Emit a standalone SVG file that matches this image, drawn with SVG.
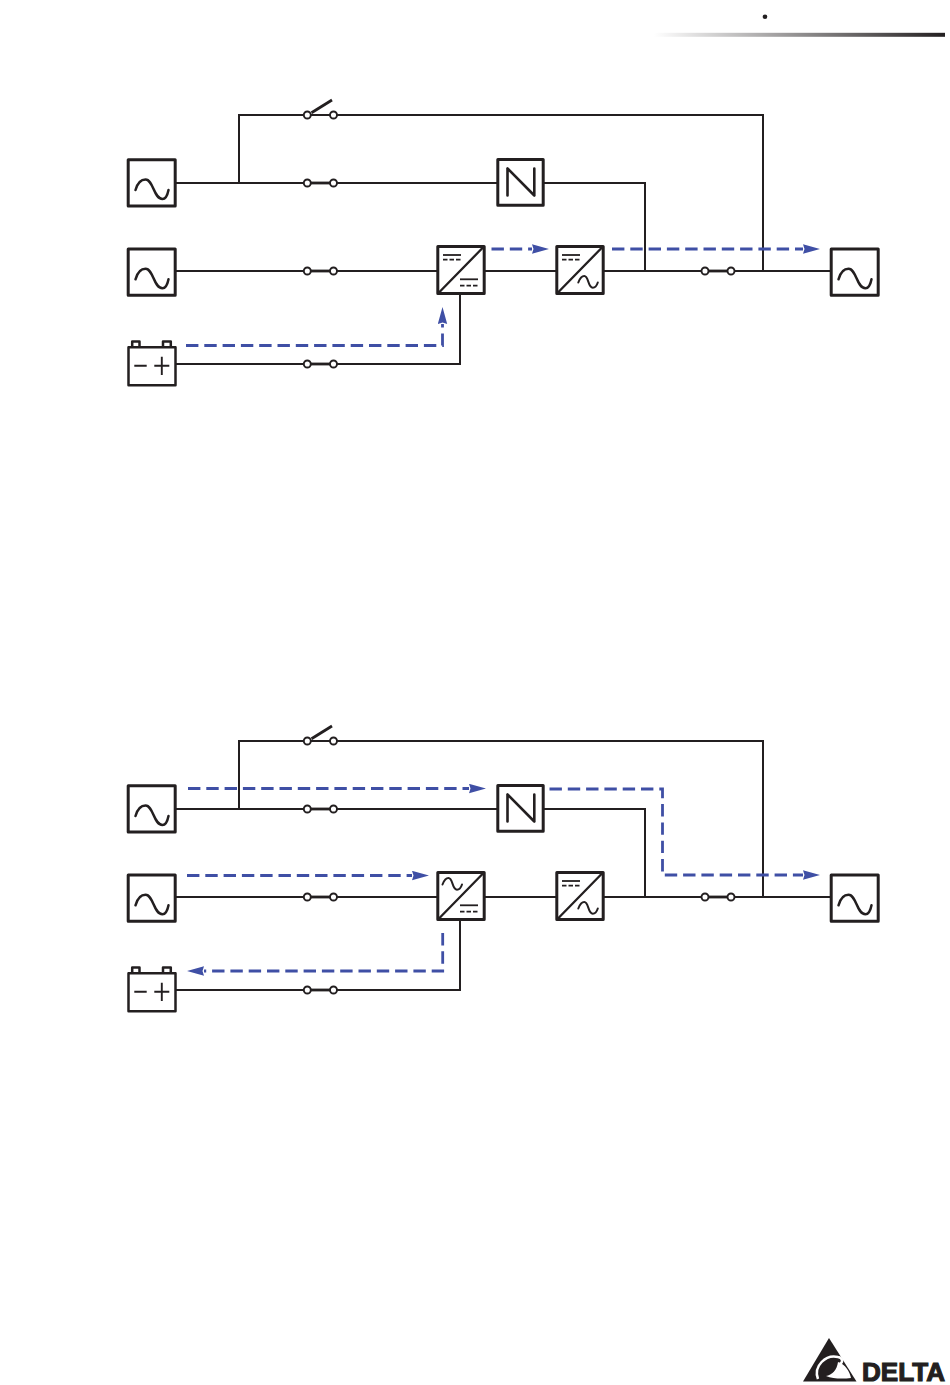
<svg xmlns="http://www.w3.org/2000/svg" width="950" height="1385" viewBox="0 0 950 1385">
<style>
.w{fill:none;stroke:#231f20;stroke-width:2}
.b{fill:#fff;stroke:#231f20;stroke-width:3;stroke-linejoin:round}
.bt{fill:#fff;stroke:#231f20;stroke-width:2.5;stroke-linejoin:round}
.s{fill:none;stroke:#231f20;stroke-linecap:round}
.t{fill:none;stroke:#231f20;stroke-width:1.9}
.d{fill:none;stroke:#3f4fa5;stroke-width:2.8;stroke-dasharray:12.4 5.9}
.c{fill:#fff;stroke:#231f20;stroke-width:1.9}
.h{fill:none;stroke:#231f20;stroke-width:2.8}
.dc{fill:none;stroke:#231f20;stroke-width:1.8}
</style>
<defs>
<linearGradient id="g"><stop offset="0" stop-color="#fff"/><stop offset="1" stop-color="#231f20"/></linearGradient>
<marker id="a" markerUnits="userSpaceOnUse" markerWidth="18" markerHeight="11" refX="0" refY="5" orient="auto"><path d="M0 .3L17 5L0 9.700L1.500 5Z" fill="#3f4fa5"/></marker>
<g id="ac"><rect class="b" x=".7" y=".8" width="47" height="46.200"/><path class="s" style="stroke-width:2.500" d="M8 31C10 24 14 20.500 18 20.500C26 20.500 26 40 35 40C38 40 40 36 41 31"/></g>
<g id="dc1"><path class="dc" d="M6 9H24"/><path class="dc" style="stroke-dasharray:4.500 2" d="M6 13.700H24"/></g>
<g id="dc2"><path class="dc" d="M23 33.300H41"/><path class="dc" style="stroke-dasharray:4.500 2" d="M23 39.700H41"/></g>
<path id="sn" class="s" style="stroke-width:2" d="M0 6.500C1.500 2.500 3.500 0 6 0C10.500 0 9.500 11.700 14.500 11.700C16.500 11.700 18.500 9.500 19.500 6.500"/>
<g id="box"><rect class="b" x=".8" y=".5" width="46.400" height="47"/><path class="s" style="stroke-width:2.300" d="M1.500 47L46.500 1"/></g>
<g id="cv2"><use href="#box"/><use href="#dc1"/><use href="#sn" x="22.300" y="30"/></g>
<g id="n"><rect class="b" x=".8" y=".5" width="45.400" height="45.700"/><path class="s" style="stroke-width:2.600" d="M10.500 9.500V36.500M37.300 9.500V36.500M10.500 9.500L37.300 36.500"/></g>
<g id="bat"><rect class="bt" x="4.700" y="-5.500" width="7.300" height="7"/><rect class="bt" x="35.500" y="-5.500" width="7.800" height="7"/><rect class="bt" x="1" y=".3" width="47" height="38"/><path class="t" d="M6.800 18.700H19.200M26.800 18.700H41.800M34.300 9.700V28"/></g>
<g id="swc"><path class="h" d="M307 0H334"/><circle class="c" cx="307.300" cy="0" r="3.500"/><circle class="c" cx="333.500" cy="0" r="3.500"/></g>
<g id="swo"><path class="h" d="M311.500-2.300L332-15"/><circle class="c" cx="307.300" cy="0" r="3.500"/><circle class="c" cx="333.500" cy="0" r="3.500"/></g>
<g id="swb"><path class="h" d="M705 0H731"/><circle class="c" cx="705" cy="0" r="3.500"/><circle class="c" cx="731" cy="0" r="3.500"/></g>
</defs>
<rect width="950" height="1385" fill="#fff"/>
<g id="header"><circle cx="765" cy="16.700" r="2.300" fill="#231f20"/><rect x="654" y="32.800" width="291" height="4" fill="url(#g)"/></g>

<g id="connectors">
<path class="w" d="M176 183H507M534 183H645V271M239 183V115H763V271M176 271H437M485 271H556M604 271H830M176 364H460V294"/>
<path class="w" transform="translate(0 626)" d="M176 183H507M534 183H645V271M239 183V115H763V271M176 271H437M485 271H556M604 271H830M176 364H460V294"/>
<path class="d" marker-end="url(#a)" d="M186 345.500H442.500V324"/>
<path class="d" marker-end="url(#a)" d="M491.500 249H532"/>
<path class="d" marker-end="url(#a)" d="M612 249H803"/>
<path class="d" marker-end="url(#a)" d="M188 788.500H469"/>
<path class="d" marker-end="url(#a)" d="M549.500 789H662.500V875H803"/>
<path class="d" marker-end="url(#a)" d="M187 875.500H412"/>
<path class="d" marker-end="url(#a)" d="M442.700 933V971H204"/>
</g>

<g id="source-bypass-1" transform="translate(127.500 159)"><use href="#ac"/></g>
<g id="source-main-1" transform="translate(127.500 248.300)"><use href="#ac"/></g>
<g id="battery-1" transform="translate(127.500 347)"><use href="#bat"/></g>
<g id="switch-manual-1" transform="translate(0 115)"><use href="#swo"/></g>
<g id="switch-bypass-1" transform="translate(0 183)"><use href="#swc"/></g>
<g id="switch-input-1" transform="translate(0 271)"><use href="#swc"/></g>
<g id="switch-battery-1" transform="translate(0 364)"><use href="#swc"/></g>
<g id="switch-output-1" transform="translate(0 271)"><use href="#swb"/></g>
<g id="static-switch-1" transform="translate(497 159)"><use href="#n"/></g>
<g id="rectifier-1" transform="translate(437 246)"><use href="#box"/><use href="#dc1"/><use href="#dc2"/></g>
<g id="inverter-1" transform="translate(556 246)"><use href="#cv2"/></g>
<g id="load-1" transform="translate(830.500 248.300)"><use href="#ac"/></g>

<g id="source-bypass-2" transform="translate(127.500 785)"><use href="#ac"/></g>
<g id="source-main-2" transform="translate(127.500 874.300)"><use href="#ac"/></g>
<g id="battery-2" transform="translate(127.500 973)"><use href="#bat"/></g>
<g id="switch-manual-2" transform="translate(0 741)"><use href="#swo"/></g>
<g id="switch-bypass-2" transform="translate(0 809)"><use href="#swc"/></g>
<g id="switch-input-2" transform="translate(0 897)"><use href="#swc"/></g>
<g id="switch-battery-2" transform="translate(0 990)"><use href="#swc"/></g>
<g id="switch-output-2" transform="translate(0 897)"><use href="#swb"/></g>
<g id="static-switch-2" transform="translate(497 785)"><use href="#n"/></g>
<g id="rectifier-2" transform="translate(437 872)"><use href="#box"/><use href="#sn" x="5.500" y="6"/><use href="#dc2"/></g>
<g id="inverter-2" transform="translate(556 872)"><use href="#cv2"/></g>
<g id="load-2" transform="translate(830.500 874.300)"><use href="#ac"/></g>

<g id="logo">
<path d="M829 1338L856.500 1381.500H803Z" fill="#231f20"/>
<path d="M818 1379C813 1366 826 1354 838 1357C843 1358 843 1362 840 1364" fill="none" stroke="#fff" stroke-width="2.500"/>
<path d="M838 1362C845 1364 850 1372 851 1378C843 1379 833 1379 826 1376C832 1375 837 1370 838 1362Z" fill="#fff"/>
<text x="862" y="1380.500" font-family="'Liberation Sans',Arial,sans-serif" font-weight="700" font-size="25" textLength="83" lengthAdjust="spacingAndGlyphs" fill="#231f20" stroke="#231f20" stroke-width="1.100">DELTA</text>
</g>
</svg>
